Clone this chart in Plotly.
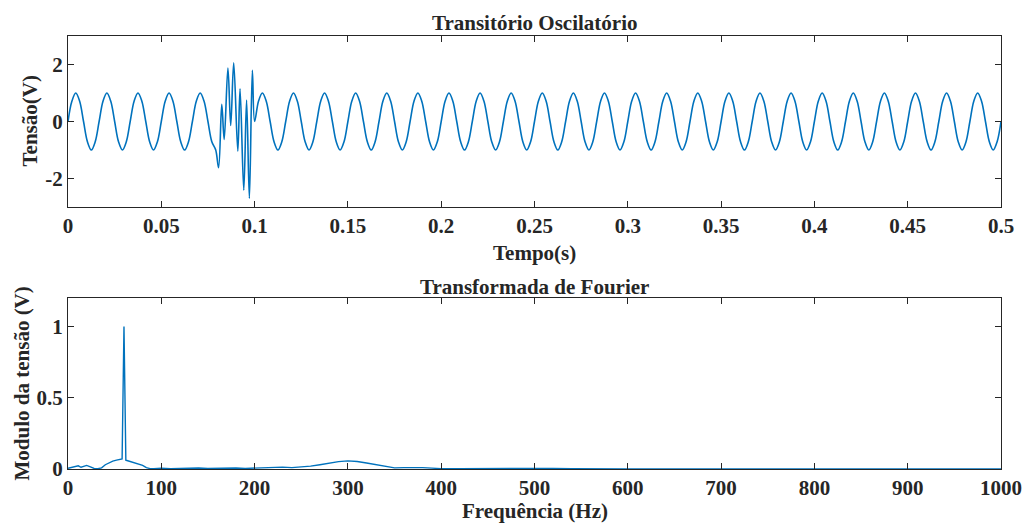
import plotly.graph_objects as go

# time signal: steady 60 Hz sine read every 1/8 cycle, plus the transient burst
t_pre = [0, 0.00208, 0.00417, 0.00625, 0.00833, 0.01042, 0.0125, 0.01458,
         0.01667, 0.01875, 0.02083, 0.02292, 0.025, 0.02708, 0.02917, 0.03125,
         0.03333, 0.03542, 0.0375, 0.03958, 0.04167, 0.04375, 0.04583, 0.04792,
         0.05, 0.05208, 0.05417, 0.05625, 0.05833, 0.06042, 0.0625, 0.06458,
         0.06667, 0.06875, 0.07083, 0.07292, 0.075, 0.07708, 0.07917]
v_pre = [0, 0.71, 1, 0.71, 0, -0.71, -1, -0.71,
         0, 0.71, 1, 0.71, 0, -0.71, -1, -0.71,
         0, 0.71, 1, 0.71, 0, -0.71, -1, -0.71,
         0, 0.71, 1, 0.71, 0, -0.71, -1, -0.71,
         0, 0.71, 1, 0.71, 0, -0.71, -1]

t_burst = [0.0807, 0.0824, 0.0837, 0.0857, 0.0872, 0.0888, 0.0910, 0.0922, 0.0942, 0.0957, 0.0972, 0.0988]
v_burst = [-1.62, 0.60, -0.63, 1.88, -0.14, 2.06, -1.04, 1.15, -2.41, 0.75, -2.70, 1.80]

t_post = [0.1, 0.10208, 0.10417, 0.10625, 0.10833, 0.11042, 0.1125, 0.11458,
          0.11667, 0.11875, 0.12083, 0.12292, 0.125, 0.12708, 0.12917, 0.13125,
          0.13333, 0.13542, 0.1375, 0.13958, 0.14167, 0.14375, 0.14583, 0.14792,
          0.15, 0.15208, 0.15417, 0.15625, 0.15833, 0.16042, 0.1625, 0.16458,
          0.16667, 0.16875, 0.17083, 0.17292, 0.175, 0.17708, 0.17917, 0.18125,
          0.18333, 0.18542, 0.1875, 0.18958, 0.19167, 0.19375, 0.19583, 0.19792,
          0.2, 0.20208, 0.20417, 0.20625, 0.20833, 0.21042, 0.2125, 0.21458,
          0.21667, 0.21875, 0.22083, 0.22292, 0.225, 0.22708, 0.22917, 0.23125,
          0.23333, 0.23542, 0.2375, 0.23958, 0.24167, 0.24375, 0.24583, 0.24792,
          0.25, 0.25208, 0.25417, 0.25625, 0.25833, 0.26042, 0.2625, 0.26458,
          0.26667, 0.26875, 0.27083, 0.27292, 0.275, 0.27708, 0.27917, 0.28125,
          0.28333, 0.28542, 0.2875, 0.28958, 0.29167, 0.29375, 0.29583, 0.29792,
          0.3, 0.30208, 0.30417, 0.30625, 0.30833, 0.31042, 0.3125, 0.31458,
          0.31667, 0.31875, 0.32083, 0.32292, 0.325, 0.32708, 0.32917, 0.33125,
          0.33333, 0.33542, 0.3375, 0.33958, 0.34167, 0.34375, 0.34583, 0.34792,
          0.35, 0.35208, 0.35417, 0.35625, 0.35833, 0.36042, 0.3625, 0.36458,
          0.36667, 0.36875, 0.37083, 0.37292, 0.375, 0.37708, 0.37917, 0.38125,
          0.38333, 0.38542, 0.3875, 0.38958, 0.39167, 0.39375, 0.39583, 0.39792,
          0.4, 0.40208, 0.40417, 0.40625, 0.40833, 0.41042, 0.4125, 0.41458,
          0.41667, 0.41875, 0.42083, 0.42292, 0.425, 0.42708, 0.42917, 0.43125,
          0.43333, 0.43542, 0.4375, 0.43958, 0.44167, 0.44375, 0.44583, 0.44792,
          0.45, 0.45208, 0.45417, 0.45625, 0.45833, 0.46042, 0.4625, 0.46458,
          0.46667, 0.46875, 0.47083, 0.47292, 0.475, 0.47708, 0.47917, 0.48125,
          0.48333, 0.48542, 0.4875, 0.48958, 0.49167, 0.49375, 0.49583, 0.49792,
          0.5]
v_post = [0, 0.71, 1, 0.71, 0, -0.71, -1, -0.71,
          0, 0.71, 1, 0.71, 0, -0.71, -1, -0.71,
          0, 0.71, 1, 0.71, 0, -0.71, -1, -0.71,
          0, 0.71, 1, 0.71, 0, -0.71, -1, -0.71,
          0, 0.71, 1, 0.71, 0, -0.71, -1, -0.71,
          0, 0.71, 1, 0.71, 0, -0.71, -1, -0.71,
          0, 0.71, 1, 0.71, 0, -0.71, -1, -0.71,
          0, 0.71, 1, 0.71, 0, -0.71, -1, -0.71,
          0, 0.71, 1, 0.71, 0, -0.71, -1, -0.71,
          0, 0.71, 1, 0.71, 0, -0.71, -1, -0.71,
          0, 0.71, 1, 0.71, 0, -0.71, -1, -0.71,
          0, 0.71, 1, 0.71, 0, -0.71, -1, -0.71,
          0, 0.71, 1, 0.71, 0, -0.71, -1, -0.71,
          0, 0.71, 1, 0.71, 0, -0.71, -1, -0.71,
          0, 0.71, 1, 0.71, 0, -0.71, -1, -0.71,
          0, 0.71, 1, 0.71, 0, -0.71, -1, -0.71,
          0, 0.71, 1, 0.71, 0, -0.71, -1, -0.71,
          0, 0.71, 1, 0.71, 0, -0.71, -1, -0.71,
          0, 0.71, 1, 0.71, 0, -0.71, -1, -0.71,
          0, 0.71, 1, 0.71, 0, -0.71, -1, -0.71,
          0, 0.71, 1, 0.71, 0, -0.71, -1, -0.71,
          0, 0.71, 1, 0.71, 0, -0.71, -1, -0.71,
          0, 0.71, 1, 0.71, 0, -0.71, -1, -0.71,
          0, 0.71, 1, 0.71, 0, -0.71, -1, -0.71,
          0]

# spectrum
freq = [0, 4, 8, 11, 14, 17, 20, 24, 28, 32, 36, 40, 44, 48, 52, 56, 58, 60, 62, 64,
        68, 72, 76, 80, 84, 88, 92, 100, 110, 120, 130, 140, 150, 160, 170, 180, 190, 200,
        210, 220, 230, 240, 250, 260, 270, 280, 290, 300, 310, 320, 330, 340, 350, 360, 370,
        380, 390, 400, 420, 440, 460, 480, 500, 520, 540, 560, 600, 700, 800, 900, 1000]
mag = [0.005, 0.012, 0.02, 0.022, 0.012, 0.02, 0.025, 0.015, 0.004, 0.002, 0.008, 0.03,
       0.045, 0.055, 0.062, 0.066, 0.07, 1.0, 0.062, 0.058, 0.05, 0.042, 0.035, 0.025,
       0.01, 0.003, 0.002, 0.005, 0.003, 0.006, 0.004, 0.007, 0.004, 0.006, 0.005, 0.007,
       0.004, 0.006, 0.012, 0.015, 0.013, 0.01, 0.013, 0.02, 0.03, 0.042, 0.052, 0.057,
       0.053, 0.042, 0.03, 0.017, 0.008, 0.01, 0.012, 0.01, 0.006, 0.003, 0.003, 0.004,
       0.006, 0.005, 0.004, 0.004, 0.003, 0.002, 0.001, 0.001, 0.001, 0.001, 0.0]

volt_ticks = [-2, 0, 2]
volt_ticktext = ["-2", "0", "2"]

BLUE = "#0072BD"
INK = "#262626"
FONT = "Liberation Serif"

fig = go.Figure()
fig.add_trace(go.Scatter(
    x=t_pre + t_burst + t_post, y=v_pre + v_burst + v_post,
    mode="lines", line=dict(color=BLUE, width=1.6, shape="spline", smoothing=1.0),
    xaxis="x", yaxis="y", showlegend=False,
))
fig.add_trace(go.Scatter(
    x=freq, y=mag, mode="lines", line=dict(color=BLUE, width=1.4),
    xaxis="x2", yaxis="y2", showlegend=False,
))

axis_style = dict(
    showline=True, linecolor=INK, linewidth=1, mirror="ticks",
    ticks="inside", ticklen=6, tickcolor=INK, tickwidth=1,
    showgrid=False, zeroline=False,
    tickfont=dict(family=FONT, size=21, color=INK, weight="bold"),
    ticklabelstandoff=0,
)

fig.update_layout(
    width=1034, height=527,
    margin=dict(l=68, r=28, t=36, b=58),
    plot_bgcolor="white", paper_bgcolor="white",
    xaxis=dict(domain=[0, 1], anchor="y", range=[0, 0.5], dtick=0.05, **axis_style),
    yaxis=dict(domain=[0.605, 1], anchor="x", range=[-3, 3],
               tickvals=volt_ticks, ticktext=volt_ticktext, **axis_style),
    xaxis2=dict(domain=[0, 1], anchor="y2", range=[0, 1000], dtick=100, **axis_style),
    yaxis2=dict(domain=[0, 0.395], anchor="x2", range=[0, 1.2], dtick=0.5, **axis_style),
)

label_font = dict(family=FONT, size=21, color=INK, weight="bold")
notes = [
    dict(text="Transitório Oscilatório", xref="x domain", yref="y domain", x=0.5, y=1,
         yanchor="middle", yshift=13),
    dict(text="Transformada de Fourier", xref="x2 domain", yref="y2 domain", x=0.5, y=1,
         yanchor="middle", yshift=11),
    dict(text="Tempo(s)", xref="x domain", yref="y domain", x=0.5, y=0,
         yanchor="middle", yshift=-46),
    dict(text="Frequência (Hz)", xref="x2 domain", yref="y2 domain", x=0.5, y=0,
         yanchor="middle", yshift=-42),
    dict(text="Tensão(V)", xref="x domain", yref="y domain", x=0, y=0.5,
         xanchor="center", xshift=-38, textangle=-90),
    dict(text="Modulo da tensão (V)", xref="x2 domain", yref="y2 domain", x=0, y=0.5,
         xanchor="center", xshift=-46, textangle=-90),
]
for n in notes:
    fig.add_annotation(showarrow=False, font=label_font, **n)

fig.write_html("out.html", config={"displayModeBar": False},
               post_script="document.body.style.margin='0';")
